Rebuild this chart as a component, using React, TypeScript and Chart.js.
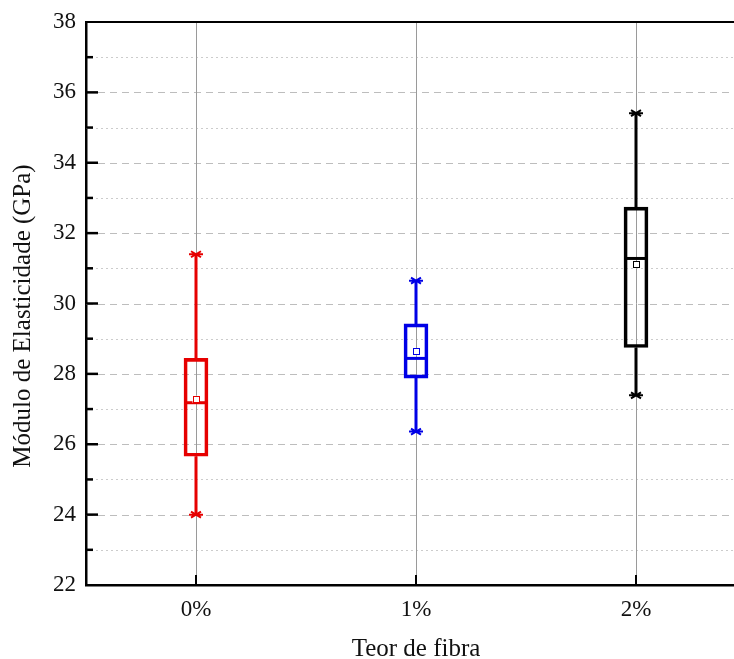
import React, { useEffect, useRef } from "react";
import { Chart, registerables } from "chart.js";

Chart.register(...registerables);

const categories = ["0%", "1%", "2%"];
const whiskerMin = [24.0, 26.36, 27.39];
const q1 = [25.66, 27.88, 28.75];
const median = [27.18, 28.44, 31.28];
const q3 = [28.44, 29.42, 32.74];
const whiskerMax = [31.4, 30.65, 35.41];
const mean = [27.28, 28.63, 31.1];
const colors = ["#e60000", "#0000e6", "#000000"];
const yMin = 22;
const yMax = 38;
const yTitle = "Módulo de Elasticidade (GPa)";
const xTitle = "Teor de fibra";

const FONT = '"Liberation Serif", "Times New Roman", serif';
const TEXT = "#111";

const boxPlugin = {
  id: "boxExtras",
  beforeDatasetsDraw(chart: any) {
    const { ctx, chartArea: a, scales } = chart;
    const x = scales.x;
    const y = scales.y;
    ctx.save();
    for (let v = yMin + 1; v < yMax; v++) {
      const py = Math.round(y.getPixelForValue(v)) + 0.5;
      ctx.beginPath();
      ctx.setLineDash(v % 2 === 0 ? [7, 5] : [2, 3]);
      ctx.strokeStyle = v % 2 === 0 ? "#bdbdbd" : "#cccccc";
      ctx.lineWidth = 1;
      ctx.moveTo(a.left, py);
      ctx.lineTo(a.right, py);
      ctx.stroke();
    }
    ctx.setLineDash([]);
    categories.forEach((_, i) => {
      const px = Math.round(x.getPixelForValue(i)) + 0.5;
      ctx.beginPath();
      ctx.strokeStyle = "#9a9a9a";
      ctx.lineWidth = 1;
      ctx.moveTo(px, a.top);
      ctx.lineTo(px, a.bottom);
      ctx.stroke();
    });
    ctx.restore();
  },
  afterDatasetsDraw(chart: any) {
    const { ctx, chartArea: a, scales } = chart;
    const x = scales.x;
    const y = scales.y;
    ctx.save();
    categories.forEach((_, i) => {
      const px = x.getPixelForValue(i);
      const c = colors[i];
      const half = 12;
      ctx.strokeStyle = c;
      ctx.lineWidth = 3;
      ctx.beginPath();
      ctx.moveTo(px, y.getPixelForValue(q3[i]));
      ctx.lineTo(px, y.getPixelForValue(whiskerMax[i]));
      ctx.moveTo(px, y.getPixelForValue(q1[i]));
      ctx.lineTo(px, y.getPixelForValue(whiskerMin[i]));
      ctx.stroke();
      ctx.beginPath();
      const pm = y.getPixelForValue(median[i]);
      ctx.moveTo(px - half, pm);
      ctx.lineTo(px + half, pm);
      ctx.stroke();
      [whiskerMax[i], whiskerMin[i]].forEach((v) => {
        const py = y.getPixelForValue(v);
        ctx.lineWidth = 2;
        ctx.beginPath();
        ctx.moveTo(px - 7, py);
        ctx.lineTo(px + 7, py);
        ctx.moveTo(px - 5, py - 3);
        ctx.lineTo(px + 5, py + 3);
        ctx.moveTo(px - 5, py + 3);
        ctx.lineTo(px + 5, py - 3);
        ctx.stroke();
      });
      const pmean = y.getPixelForValue(mean[i]);
      ctx.lineWidth = 1;
      ctx.fillStyle = "#ffffff";
      ctx.fillRect(px - 3.5, pmean - 3.5, 7, 7);
      ctx.strokeRect(Math.round(px - 3.5) + 0.5, Math.round(pmean - 3.5) + 0.5, 6, 6);
    });
    ctx.strokeStyle = "#000";
    ctx.lineWidth = 2;
    ctx.beginPath();
    ctx.moveTo(a.left, a.top);
    ctx.lineTo(a.right, a.top);
    ctx.moveTo(a.right, a.top);
    ctx.lineTo(a.right, a.bottom);
    ctx.stroke();
    for (let v = yMin + 1; v < yMax; v++) {
      const py = y.getPixelForValue(v);
      const len = v % 2 === 0 ? 12 : 7;
      ctx.beginPath();
      ctx.lineWidth = 2.5;
      ctx.moveTo(a.left, py);
      ctx.lineTo(a.left + len, py);
      ctx.stroke();
    }
    categories.forEach((_, i) => {
      const px = x.getPixelForValue(i);
      ctx.beginPath();
      ctx.lineWidth = 2;
      ctx.moveTo(px, a.bottom);
      ctx.lineTo(px, a.bottom - 10);
      ctx.stroke();
    });
    ctx.fillStyle = TEXT;
    ctx.font = `25px ${FONT}`;
    ctx.textAlign = "center";
    ctx.textBaseline = "middle";
    ctx.translate(23, 316);
    ctx.rotate(-Math.PI / 2);
    ctx.fillText(yTitle, 0, 0);
    ctx.restore();
  },
};

export default function App() {
  const ref = useRef<HTMLCanvasElement | null>(null);
  useEffect(() => {
    if (!ref.current) return;
    const chart = new Chart(ref.current, {
      type: "bar",
      data: {
        labels: categories,
        datasets: [
          {
            data: categories.map((_, i) => [q1[i], q3[i]]) as any,
            backgroundColor: "rgba(0,0,0,0)",
            borderColor: colors,
            borderWidth: 3,
            borderSkipped: false,
            barThickness: 24,
          },
        ],
      },
      options: {
        responsive: false,
        animation: false,
        devicePixelRatio: 1,
        layout: { padding: { top: 22, right: 14, bottom: 0, left: 0 } },
        plugins: {
          legend: { display: false },
          tooltip: { enabled: false },
        },
        scales: {
          x: {
            type: "category",
            offset: true,
            grid: { display: false },
            border: { color: "#000", width: 2.5 },
            ticks: { font: { family: FONT, size: 23 }, color: TEXT, padding: 3 },
            title: {
              display: true,
              text: xTitle,
              font: { family: FONT, size: 25, lineHeight: 0.8 },
              color: TEXT,
              padding: { top: 0, bottom: 0 },
            },
            afterFit: (s: any) => {
              s.height = 74;
            },
          },
          y: {
            min: yMin,
            max: yMax,
            grid: { display: false },
            border: { color: "#000", width: 2.5 },
            ticks: { stepSize: 2, font: { family: FONT, size: 23 }, color: TEXT, padding: 2 },
            afterFit: (s: any) => {
              s.width = 86;
            },
          },
        },
      } as any,
      plugins: [boxPlugin],
    });
    return () => chart.destroy();
  }, []);
  return (
    <div
      style={{
        position: "fixed",
        left: 0,
        top: 0,
        width: 734,
        height: 659,
        overflow: "hidden",
        background: "#fff",
      }}
    >
      <canvas ref={ref} width={760} height={659} style={{ display: "block" }} />
    </div>
  );
}
